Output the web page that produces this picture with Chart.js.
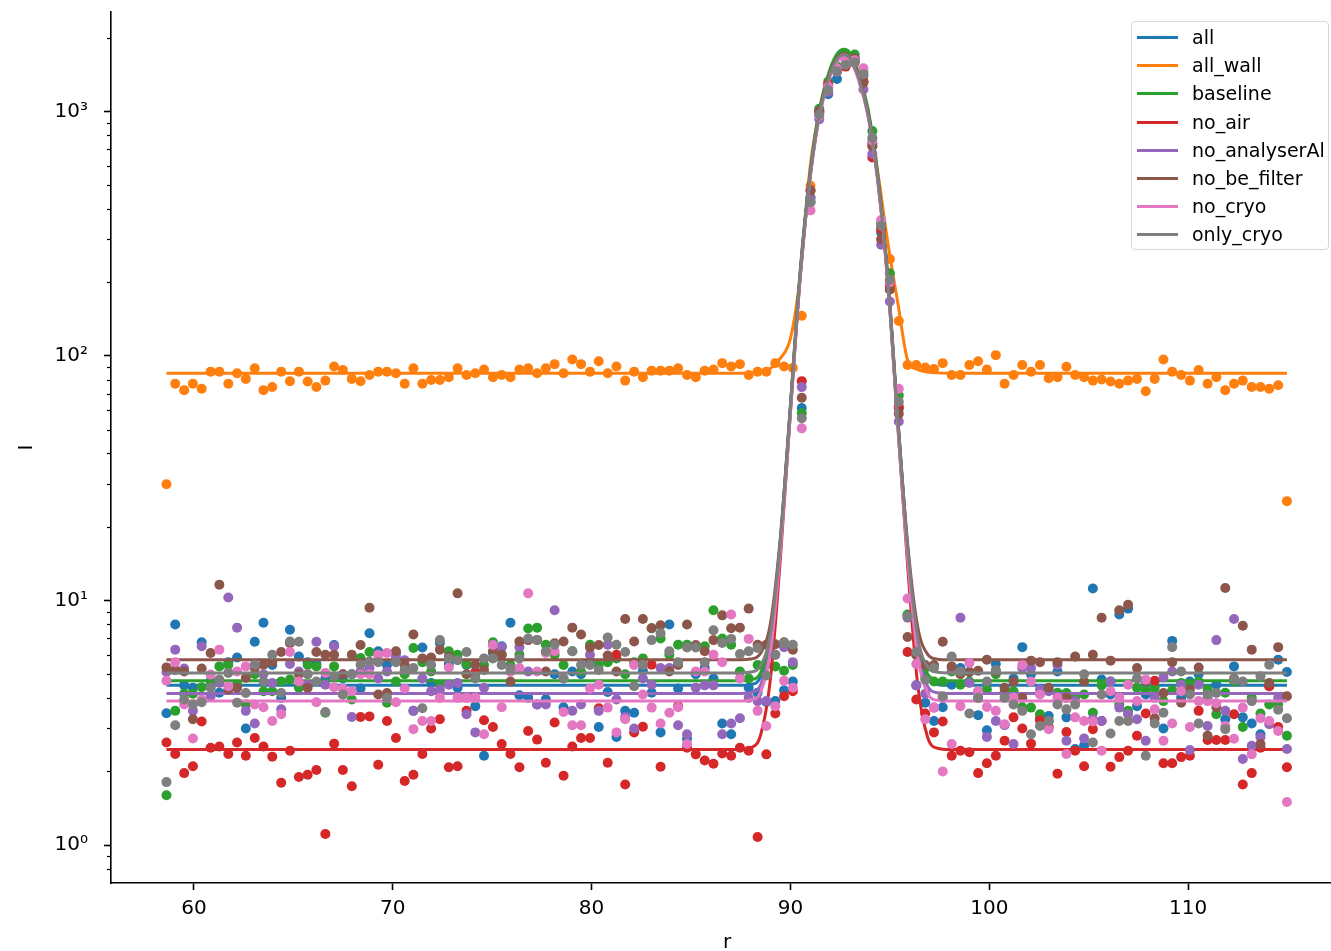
<!DOCTYPE html>
<html>
<head>
<meta charset="utf-8">
<title>I vs r</title>
<script src="https://cdn.jsdelivr.net/npm/chart.js@4/dist/chart.umd.min.js"></script>
<style>
html,body{margin:0;padding:0;background:#fff;overflow:hidden;width:1331px;height:951px}
#wrap{position:relative;width:1331px;height:951px;overflow:hidden}
#chart{position:absolute;left:0;top:0}
.legend{position:absolute;left:1131px;top:21px;width:198px;height:229px;border:1px solid #d6d6d6;border-radius:4px;background:rgba(255,255,255,.8);font-family:'DejaVu Sans',sans-serif;font-size:19px;color:#000;box-sizing:border-box}
.legend .row{position:absolute;left:0;height:28px;line-height:28px;white-space:nowrap}
.legend .sw{position:absolute;left:5px;top:13px;width:41px;height:3px}
.legend .lbl{position:absolute;left:60px;top:0}
</style>
</head>
<body>
<div id="wrap">
  <canvas id="chart" width="1360" height="975"></canvas>
  <div class="legend" id="legend"></div>
</div>
<script>
'use strict';

// radial grid shared by every series
const r = [58.62,59.06,59.51,59.95,60.39,60.84,61.28,61.73,62.17,62.61,63.06,63.50,63.94,64.39,64.83,65.28,65.72,66.16,66.61,67.05,
  67.49,67.94,68.38,68.83,69.27,69.71,70.16,70.60,71.04,71.49,71.93,72.37,72.82,73.26,73.71,74.15,74.59,75.04,75.48,75.92,
  76.37,76.81,77.26,77.70,78.14,78.59,79.03,79.47,79.92,80.36,80.81,81.25,81.69,82.14,82.58,83.02,83.47,83.91,84.35,84.80,
  85.24,85.69,86.13,86.57,87.02,87.46,87.90,88.35,88.79,89.24,89.68,90.12,90.57,91.01,91.45,91.90,92.34,92.78,93.23,93.67,
  94.12,94.56,95.00,95.45,95.89,96.33,96.78,97.22,97.66,98.11,98.55,99.00,99.44,99.88,100.33,100.77,101.22,101.66,102.10,102.55,
  102.99,103.43,103.88,104.32,104.77,105.21,105.65,106.10,106.54,106.98,107.43,107.87,108.32,108.76,109.20,109.65,110.09,110.53,110.98,111.42,
  111.87,112.31,112.75,113.20,113.64,114.08,114.53,114.97];

const all = [3.46,7.98,4.5,4.4,6.75,4.7,4.2,5.6,5.85,3.0,6.78,8.12,5.45,4.0,7.6,5.9,5.6,5.5,4.8,6.58,
  4.8,5.0,4.37,7.35,6.2,5.45,6.1,5.13,3.54,6.43,4.6,6.7,5.5,4.4,5.45,3.7,2.32,6.1,6.5,8.12,
  4.1,4.0,3.76,3.95,5.0,3.66,5.13,5.0,5.6,3.04,4.23,2.77,3.54,3.48,5.16,4.2,2.89,7.98,4.37,2.72,
  5.0,5.3,4.8,3.14,2.84,5.1,4.4,4.2,3.85,3.88,4.3,4.67,61.3,426,990,1175,1356,1650,1620,1400,
  741,320,187,61,8.7,4.5,3.82,3.22,3.66,4.53,5.3,5.1,3.4,2.95,5.5,3.1,4.8,6.45,5.0,3.3,
  3.37,5.13,3.33,2.47,2.55,11.2,4.75,4.13,8.77,9.27,3.7,4.13,4.13,3.0,6.84,4.0,4.67,5.0,4.0,4.53,
  3.27,5.38,3.33,3.14,2.84,4.46,5.73,5.1];
const allWall = [29.9,77,72.5,77,73.5,86.3,86.3,77,85,80.6,89,72.5,74.7,86.3,78.8,86.3,78.6,74.7,79.3,90.6,
  87.6,80.6,78.8,83.6,86.3,86.3,85,77,89,77,79.8,79.8,81.9,89,83.6,85,88,81.9,83.6,81.9,
  88,89,85,89,92.6,85,96.8,92.6,86.3,95.1,85,90.6,79.3,86.3,81.9,87.1,87.1,87.1,89,83.6,
  81.9,87.1,88,93.5,90.6,92.6,83.6,86.3,86.3,93.5,90.6,89.4,146,497,1010,1290,1500,1620,1580,1330,
  720,330,249,139,91.9,91.9,89.8,88.5,93.5,83.6,83.6,91.9,95.1,88,100.8,77,83.6,91.9,86.3,91.9,
  81.1,81.9,90.4,83.6,81.9,79.3,80.2,78.6,77,79.3,80.6,71.8,80.6,96.8,86.3,83.6,79.3,87.6,77,81.9,
  72.5,77,79.3,74.7,74.7,73.5,75.9,25.5];
const baseline = [1.6,3.54,4.16,4.16,4.42,4.45,5.38,5.45,4.53,3.76,5.0,4.26,4.26,4.67,4.75,4.4,5.45,5.38,3.48,5.38,
  4.13,3.94,5.82,6.16,6.0,3.82,4.67,5.0,6.4,5.6,5.13,4.53,6.2,6.0,5.5,5.0,5.45,6.75,6.0,5.45,
  6.0,7.69,7.75,6.6,6.0,5.45,6.2,5.13,6.6,5.45,5.6,5.8,5.0,5.6,5.8,7.7,7.0,6.0,6.6,6.6,
  6.5,6.5,9.13,7.0,6.6,5.13,4.8,5.45,5.45,5.38,5.16,5.45,58.3,446,1025,1325,1530,1727,1710,1450,
  832,350,218,69,8.77,6.0,5.3,4.67,4.67,5.13,4.53,4.67,4.26,4.33,5.0,4.2,4.26,3.66,3.65,3.43,
  3.22,4.2,4.19,4.0,4.13,3.48,4.5,4.67,3.76,3.54,4.4,4.3,4.4,3.88,4.3,4.6,4.5,4.67,4.33,3.43,
  4.2,4.67,3.04,4.0,3.45,3.76,3.76,2.8];
const noAir = [2.63,2.36,1.97,2.1,3.2,2.5,2.53,2.36,2.63,2.32,2.74,2.53,2.3,1.8,2.43,1.9,1.94,2.03,1.11,2.6,
  2.03,1.74,3.34,3.36,2.13,3.22,2.74,1.83,1.94,2.36,3.0,3.27,2.08,2.1,3.54,5.1,3.24,3.04,2.59,2.36,
  2.08,2.93,2.7,2.17,3.17,1.92,2.53,2.74,2.74,3.63,2.17,6.0,1.77,2.89,3.05,5.46,2.09,5.16,3.7,2.5,
  2.35,2.22,2.15,2.37,2.32,2.5,2.43,1.08,2.35,3.45,4.06,4.26,78.9,475,1000,1290,1480,1525,1600,1325,
  648,330,195,62,6.16,3.94,3.45,2.89,3.2,2.32,2.43,2.4,1.97,2.16,2.32,2.67,3.33,3.0,2.6,3.24,
  3.04,1.96,2.9,2.43,2.1,2.98,3.22,2.09,2.29,2.43,2.8,3.45,4.7,2.16,2.16,2.29,2.32,3.54,2.69,2.69,
  2.69,3.43,1.77,1.97,2.5,4.46,3.04,2.08];
const noAnalyserAl = [5.1,6.3,5.27,3.54,6.5,4.06,4.6,10.3,7.75,3.54,3.14,5.0,4.6,3.59,5.5,5.13,4.53,6.78,4.53,6.5,
  5.0,3.34,5.13,5.3,4.8,5.13,5.9,5.7,3.54,4.8,4.26,4.33,4.53,4.6,3.43,2.89,4.4,6.6,6.45,5.13,
  6.45,5.13,3.76,3.76,9.13,4.8,3.54,3.76,6.0,3.54,6.6,3.94,3.34,3.0,4.8,4.53,5.3,5.3,3.09,2.84,
  4.4,4.5,4.5,2.84,3.14,3.3,4.0,3.88,3.88,6.0,6.45,5.6,74.6,440,928,1200,1450,1650,1640,1230,
  670,285,167,54,8.5,4.5,4.16,3.65,4.0,5.3,8.5,4.6,4.0,2.77,3.22,3.1,2.59,5.3,5.3,4.33,
  4.26,5.45,2.67,3.88,2.73,3.27,3.22,4.67,3.65,3.43,3.27,2.67,4.0,4.85,5.13,4.53,2.45,4.53,3.07,6.89,
  3.54,8.4,2.25,2.55,2.76,3.12,4.0,2.47];
const noBeFilter = [5.33,5.2,5.13,3.27,5.27,6.1,11.6,4.33,4.4,4.83,5.3,5.46,5.6,6.16,6.69,5.0,4.4,6.16,6.0,6.0,
  5.0,6.0,6.58,9.35,4.13,4.19,6.2,5.45,7.27,5.8,5.85,6.3,5.9,10.7,5.0,5.46,5.2,6.2,6.0,4.67,
  6.8,6.89,6.89,5.13,6.69,6.8,7.75,7.27,6.43,6.58,5.96,5.13,8.4,6.8,8.4,7.7,7.93,5.13,5.45,7.98,
  6.58,6.2,6.89,8.7,7.7,7.75,9.27,6.6,6.6,6.63,6.75,6.3,67.5,475,1000,1250,1480,1650,1650,1310,
  722,300,187,58,7.1,6.0,5.45,5.45,6.78,5.38,5.0,5.1,5.16,5.73,5.13,4.4,4.67,4.0,5.68,5.6,
  4.4,5.6,4.0,5.9,4.67,6.0,8.5,5.68,9.13,9.62,5.3,4.67,3.3,4.19,5.6,3.82,4.33,5.32,2.8,3.66,
  11.25,4.8,7.89,6.3,2.59,4.6,6.45,4.06];
const noCryo = [4.7,5.6,3.76,2.73,3.94,4.98,6.3,4.46,5.13,5.38,3.76,3.66,3.22,3.43,6.16,4.67,5.0,3.84,5.06,4.42,
  4.37,4.26,5.0,5.0,6.0,6.1,3.84,4.37,2.98,3.22,3.22,4.0,5.32,4.0,4.0,4.0,2.84,6.58,3.66,5.13,
  5.3,10.7,5.13,6.1,6.2,3.5,3.09,3.09,4.37,4.53,3.65,2.89,3.27,5.45,4.13,3.65,3.14,3.48,3.66,2.59,
  5.13,5.13,6.0,5.6,8.77,4.8,6.97,3.54,3.07,3.7,4.7,4.4,50.6,394,960,1264,1500,1600,1620,1500,
  760,360,200,73.5,10.2,5.5,3.27,3.65,2.0,2.59,3.7,5.55,4.26,3.67,3.54,3.12,4.0,5.45,4.67,4.13,
  2.98,4.0,2.36,3.33,3.22,3.2,2.43,4.26,4.0,4.53,3.88,4.75,3.59,2.67,3.14,4.26,3.04,3.88,3.88,3.8,
  3.07,2.72,3.65,2.35,3.3,3.22,2.93,1.5];
const onlyCryo = [1.81,3.09,3.94,3.76,3.84,4.4,4.75,5.06,3.82,4.19,5.46,4.67,6.0,4.19,6.8,6.78,5.0,4.67,3.5,4.9,
  4.13,5.0,5.46,5.63,5.6,4.0,5.6,5.2,5.3,3.63,5.45,6.89,5.8,5.7,6.16,4.8,5.8,5.8,5.45,5.3,
  5.8,7.0,6.9,6.2,6.6,4.8,6.2,5.45,5.45,5.2,7.06,6.6,6.16,4.46,5.45,6.89,7.35,6.2,5.6,6.43,
  6.43,5.6,7.56,6.7,6.97,6.04,6.2,6.4,4.94,6.0,6.7,6.6,55.6,425,971,1220,1460,1550,1590,1420,
  781,340,205,65,8.6,6.16,4.75,5.3,4.06,5.9,5.13,3.45,4.0,4.67,5.2,4.0,3.76,3.54,2.84,3.07,
  3.22,3.76,3.59,3.76,5.0,2.63,4.13,2.86,3.22,3.22,4.8,2.32,3.14,3.48,6.45,5.13,4.13,3.14,4.13,4.19,
  2.98,4.75,4.67,3.88,4.9,5.46,3.58,3.3];

// fitted curves at these r values
const fitR = [58.62,87.0,87.5,88.0,88.5,89.0,89.5,90.0,90.5,91.0,91.5,92.0,92.4,92.7,93.0,93.4,93.9,94.4,94.9,95.4,95.9,96.4,96.9,97.4,98.0,98.5,114.97];
const fitAll = [4.5,4.5,4.5,4.54,4.86,6.9,17.3,61.5,221.5,561.5,1034.5,1454.5,1691.5,1744.5,1676.5,1423.5,997.5,531.5,205.5,54.5,15.8,6.6,4.8,4.54,4.5,4.5,4.5];
const fitAllWall = [85,85,85,85.3,86.2,89,98,118,215,600,1030,1440,1670,1720,1660,1420,1000,560,290,165,96,88,86,85.3,85,85,85];
const fitBaseline = [4.7,4.7,4.7,4.74,5.07,7.17,17.9,63.4,228.2,578.4,1065.6,1498.2,1742.3,1796.9,1726.9,1466.3,1027.5,547.5,211.7,56.2,16.3,6.86,5.01,4.74,4.7,4.7,4.7];
const fitNoAir = [2.46,2.46,2.46,2.5,2.82,4.84,15.1,58.9,217.3,553.9,1022.2,1438,1672.6,1725,1657.7,1407.3,985.5,524.2,201.5,51.96,13.65,4.54,2.76,2.49,2.46,2.46,2.46];
const fitNoAnalyserAl = [4.17,4.17,4.17,4.21,4.52,6.52,16.7,60.1,216.9,550.1,1013.6,1425.2,1657.5,1709.4,1642.8,1394.8,977.3,520.7,201.2,53.2,15.3,6.23,4.46,4.2,4.17,4.17,4.17];
const fitNoBeFilter = [5.73,5.73,5.73,5.77,6.09,8.11,18.4,62.1,220.5,557.1,1025.4,1441.2,1675.8,1728.3,1661,1410.5,988.8,527.4,204.7,55.2,16.9,7.81,6.03,5.76,5.73,5.73,5.73];
const fitNoCryo = [3.88,3.88,3.88,3.92,4.23,6.18,16.2,58.6,212.2,538.6,992.7,1395.9,1623.4,1674.3,1609,1366.1,957.2,509.8,196.9,51.9,14.7,5.9,4.17,3.91,3.88,3.88,3.88];
const fitOnlyCryo = [5.06,5.06,5.06,5.1,5.41,7.41,17.6,61,217.8,551,1014.5,1426.1,1658.4,1710.3,1643.7,1395.7,978.2,521.6,202.1,54.1,16.2,7.12,5.35,5.09,5.06,5.06,5.06];

const labels = ['all','all_wall','baseline','no_air','no_analyserAl','no_be_filter','no_cryo','only_cryo'];
const colors = ['#1f77b4','#ff7f0e','#2ca02c','#d62728','#9467bd','#8c564b','#e377c2','#7f7f7f'];
const points = [all,allWall,baseline,noAir,noAnalyserAl,noBeFilter,noCryo,onlyCryo];
const fits = [fitAll,fitAllWall,fitBaseline,fitNoAir,fitNoAnalyserAl,fitNoBeFilter,fitNoCryo,fitOnlyCryo];

const xTicks = [60,70,80,90,100,110];
const yMajor = [1,10,100,1000];
const yMinor = [0.8,0.9,2,3,4,5,6,7,8,9,20,30,40,50,60,70,80,90,200,300,400,500,600,700,800,900,2000];
const sup = ['\u2070','\u00b9','\u00b2','\u00b3'];

const $ = id => document.getElementById(id);
const FONT = "'DejaVu Sans', sans-serif";

// scatter then fit line per series; later ones sit on top
const datasets = [];
labels.forEach((name, k) => {
  datasets.push({
    label: name + ' data', data: r.map((x, i) => ({x, y: points[k][i]})),
    backgroundColor: colors[k], borderWidth: 0, pointRadius: 5, pointHoverRadius: 5,
    showLine: false, order: 100 - 2 * k
  });
  datasets.push({
    label: name, data: fitR.map((x, i) => ({x, y: fits[k][i]})),
    borderColor: colors[k], backgroundColor: colors[k], borderWidth: 3, pointRadius: 0,
    showLine: true, cubicInterpolationMode: 'monotone', order: 99 - 2 * k
  });
});

const minorTicks = {
  id: 'minorTicks',
  afterDraw(chart) {
    const y = chart.scales.y, ctx = chart.ctx, a = chart.chartArea;
    ctx.save();
    ctx.strokeStyle = '#000'; ctx.lineWidth = 1.2;
    yMinor.forEach(v => {
      const py = Math.round(y.getPixelForValue(v)) + 0.5;
      if (py < a.top || py > a.bottom) return;
      ctx.beginPath(); ctx.moveTo(y.right - 4, py); ctx.lineTo(y.right, py); ctx.stroke();
    });
    ctx.restore();
  }
};

new Chart($('chart'), {
  type: 'scatter',
  data: {datasets},
  options: {
    responsive: false, animation: false, devicePixelRatio: 1,
    layout: {padding: {top: 12, right: 17, left: 0, bottom: 0}},
    plugins: {legend: {display: false}, tooltip: {enabled: false}},
    scales: {
      x: {
        type: 'linear', min: 55.83, max: 117.79,
        afterBuildTicks: s => { s.ticks = xTicks.map(v => ({value: v})); },
        afterFit: s => { s.height = 92; s.paddingLeft = 0; s.paddingRight = 0; },
        grid: {display: true, drawOnChartArea: false, drawTicks: true, tickLength: 7, tickWidth: 1.6, tickColor: '#000'},
        border: {display: true, color: '#000', width: 1.6},
        ticks: {color: '#000', padding: 7, maxRotation: 0, autoSkip: false, font: {family: FONT, size: 20}},
        title: {display: true, text: 'r', color: '#000', font: {family: FONT, size: 20}, padding: {top: 0, bottom: 20}}
      },
      y: {
        type: 'logarithmic', min: 0.744, max: 2550,
        afterBuildTicks: s => { s.ticks = yMajor.map(v => ({value: v, major: true})); },
        afterFit: s => { s.width = 111; s.paddingTop = 0; s.paddingBottom = 0; },
        grid: {display: true, drawOnChartArea: false, drawTicks: true, tickLength: 7, tickWidth: 1.6, tickColor: '#000'},
        border: {display: true, color: '#000', width: 1.6},
        ticks: {color: '#000', padding: 16, autoSkip: false, font: {family: FONT, size: 20},
          callback: v => '10' + sup[Math.round(Math.log10(v))]},
        title: {display: true, text: 'I', color: '#000', font: {family: FONT, size: 20}, padding: {top: 15, bottom: 0}}
      }
    }
  },
  plugins: [minorTicks]
});

// legend: fit lines only, like the original
$('legend').innerHTML = labels.map((name, k) =>
  `<div class="row" style="top:${1 + k * 28.2}px"><span class="sw" style="background:${colors[k]}"></span><span class="lbl">${name}</span></div>`
).join('');
</script>
</body>
</html>
